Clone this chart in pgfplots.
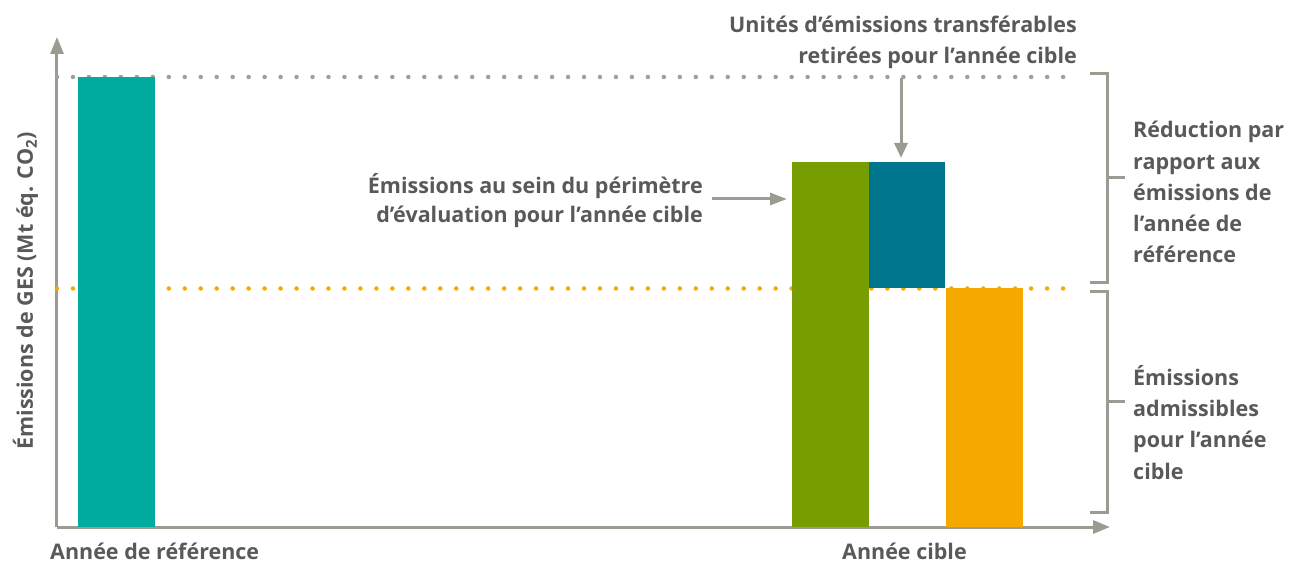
\documentclass[border=0pt]{standalone}
\usepackage{pgfplots}
\pgfplotsset{compat=1.18}
\usepackage{fontspec}
\setmainfont{Open Sans}
\usetikzlibrary{arrows.meta}
\definecolor{cteal}{RGB}{0,171,160}
\definecolor{cgreen}{RGB}{120,157,0}
\definecolor{cdteal}{RGB}{0,117,142}
\definecolor{corange}{RGB}{245,168,0}
\definecolor{caxis}{RGB}{155,155,146}
\definecolor{cdot}{RGB}{160,160,152}
\definecolor{ctext}{RGB}{88,89,91}
\newcommand{\lbl}{\fontsize{21.5}{25}\selectfont\bfseries}
\begin{document}
\begin{tikzpicture}[every node/.style={text=ctext, font=\lbl, inner sep=0pt}]
\begin{axis}[
  x=1pt, y=1pt, xmin=57, xmax=1110, ymin=0, ymax=490,
  axis lines=left,
  axis line style={draw=caxis, line width=3pt, -{Triangle[length=17pt,width=13pt]}},
  xtick=\empty, ytick=\empty,
  clip=false,
]
% reference levels (dotted)
\addplot[cdot, line width=4.5pt, line cap=round, dash pattern=on 0pt off 15.97pt] coordinates {(57,450) (1064,450)};
\addplot[corange, line width=4.5pt, line cap=round, dash pattern=on 0pt off 15.97pt] coordinates {(57,238.5) (1064,238.5)};

% annotations
\node[anchor=base east] at (axis cs:1077,494) {Unités d’émissions transférables};
\node[anchor=base east] at (axis cs:1077,463) {retirées pour l’année cible};
\draw[caxis, line width=3pt, -{Triangle[length=15pt,width=13pt]}] (axis cs:901,449) -- (axis cs:901,369);

\node[anchor=base east] at (axis cs:703,333) {Émissions au sein du périmètre};
\node[anchor=base east] at (axis cs:703,304) {d’évaluation pour l’année cible};
\draw[caxis, line width=3pt, -{Triangle[length=17pt,width=12pt]}] (axis cs:712,328) -- (axis cs:787,328);

% brackets
\draw[caxis, line width=3pt] (axis cs:1090,453) -- (axis cs:1107,453) -- (axis cs:1107,244) -- (axis cs:1090,244);
\draw[caxis, line width=3pt] (axis cs:1107,349) -- (axis cs:1125,349);
\draw[caxis, line width=3pt] (axis cs:1090,235) -- (axis cs:1107,235) -- (axis cs:1107,15) -- (axis cs:1090,15);
\draw[caxis, line width=3pt] (axis cs:1107,125) -- (axis cs:1125,125);

\node[anchor=base west] at (axis cs:1133,389) {Réduction par};
\node[anchor=base west] at (axis cs:1133,357) {rapport aux};
\node[anchor=base west] at (axis cs:1133,326) {émissions de};
\node[anchor=base west] at (axis cs:1133,295) {l’année de};
\node[anchor=base west] at (axis cs:1133,264) {référence};

\node[anchor=base west] at (axis cs:1133,141) {Émissions};
\node[anchor=base west] at (axis cs:1133,110) {admissibles};
\node[anchor=base west] at (axis cs:1133,79) {pour l’année};
\node[anchor=base west] at (axis cs:1133,48) {cible};

% axis labels
\node[anchor=base west] at (axis cs:50,-32) {Année de référence};
\node[anchor=base west] at (axis cs:842,-32) {Année cible};
\node[anchor=base, rotate=90] at (axis cs:33,236) {Émissions de GES (Mt éq. CO\textsubscript{2})};
\end{axis}

\begin{axis}[
  x=1pt, y=1pt, xmin=57, xmax=1110, ymin=0, ymax=490,
  hide axis, clip=false,
  ybar stacked, bar width=77,
]
\addplot[draw=none, fill=none] coordinates {(116.5,0) (830,0) (906.5,238.5) (984,0)};
\addplot[draw=none, fill=cteal] coordinates {(116.5,450) (830,0) (906.5,0) (984,0)};
\addplot[draw=none, fill=cgreen] coordinates {(116.5,0) (830,365) (906.5,0) (984,0)};
\addplot[draw=none, fill=cdteal] coordinates {(116.5,0) (830,0) (906.5,126.5) (984,0)};
\addplot[draw=none, fill=corange] coordinates {(116.5,0) (830,0) (906.5,0) (984,239)};
\end{axis}
\pgfresetboundingbox
\path[use as bounding box] (-57pt,-38pt) rectangle (1234pt,527pt);
\end{tikzpicture}
\end{document}
